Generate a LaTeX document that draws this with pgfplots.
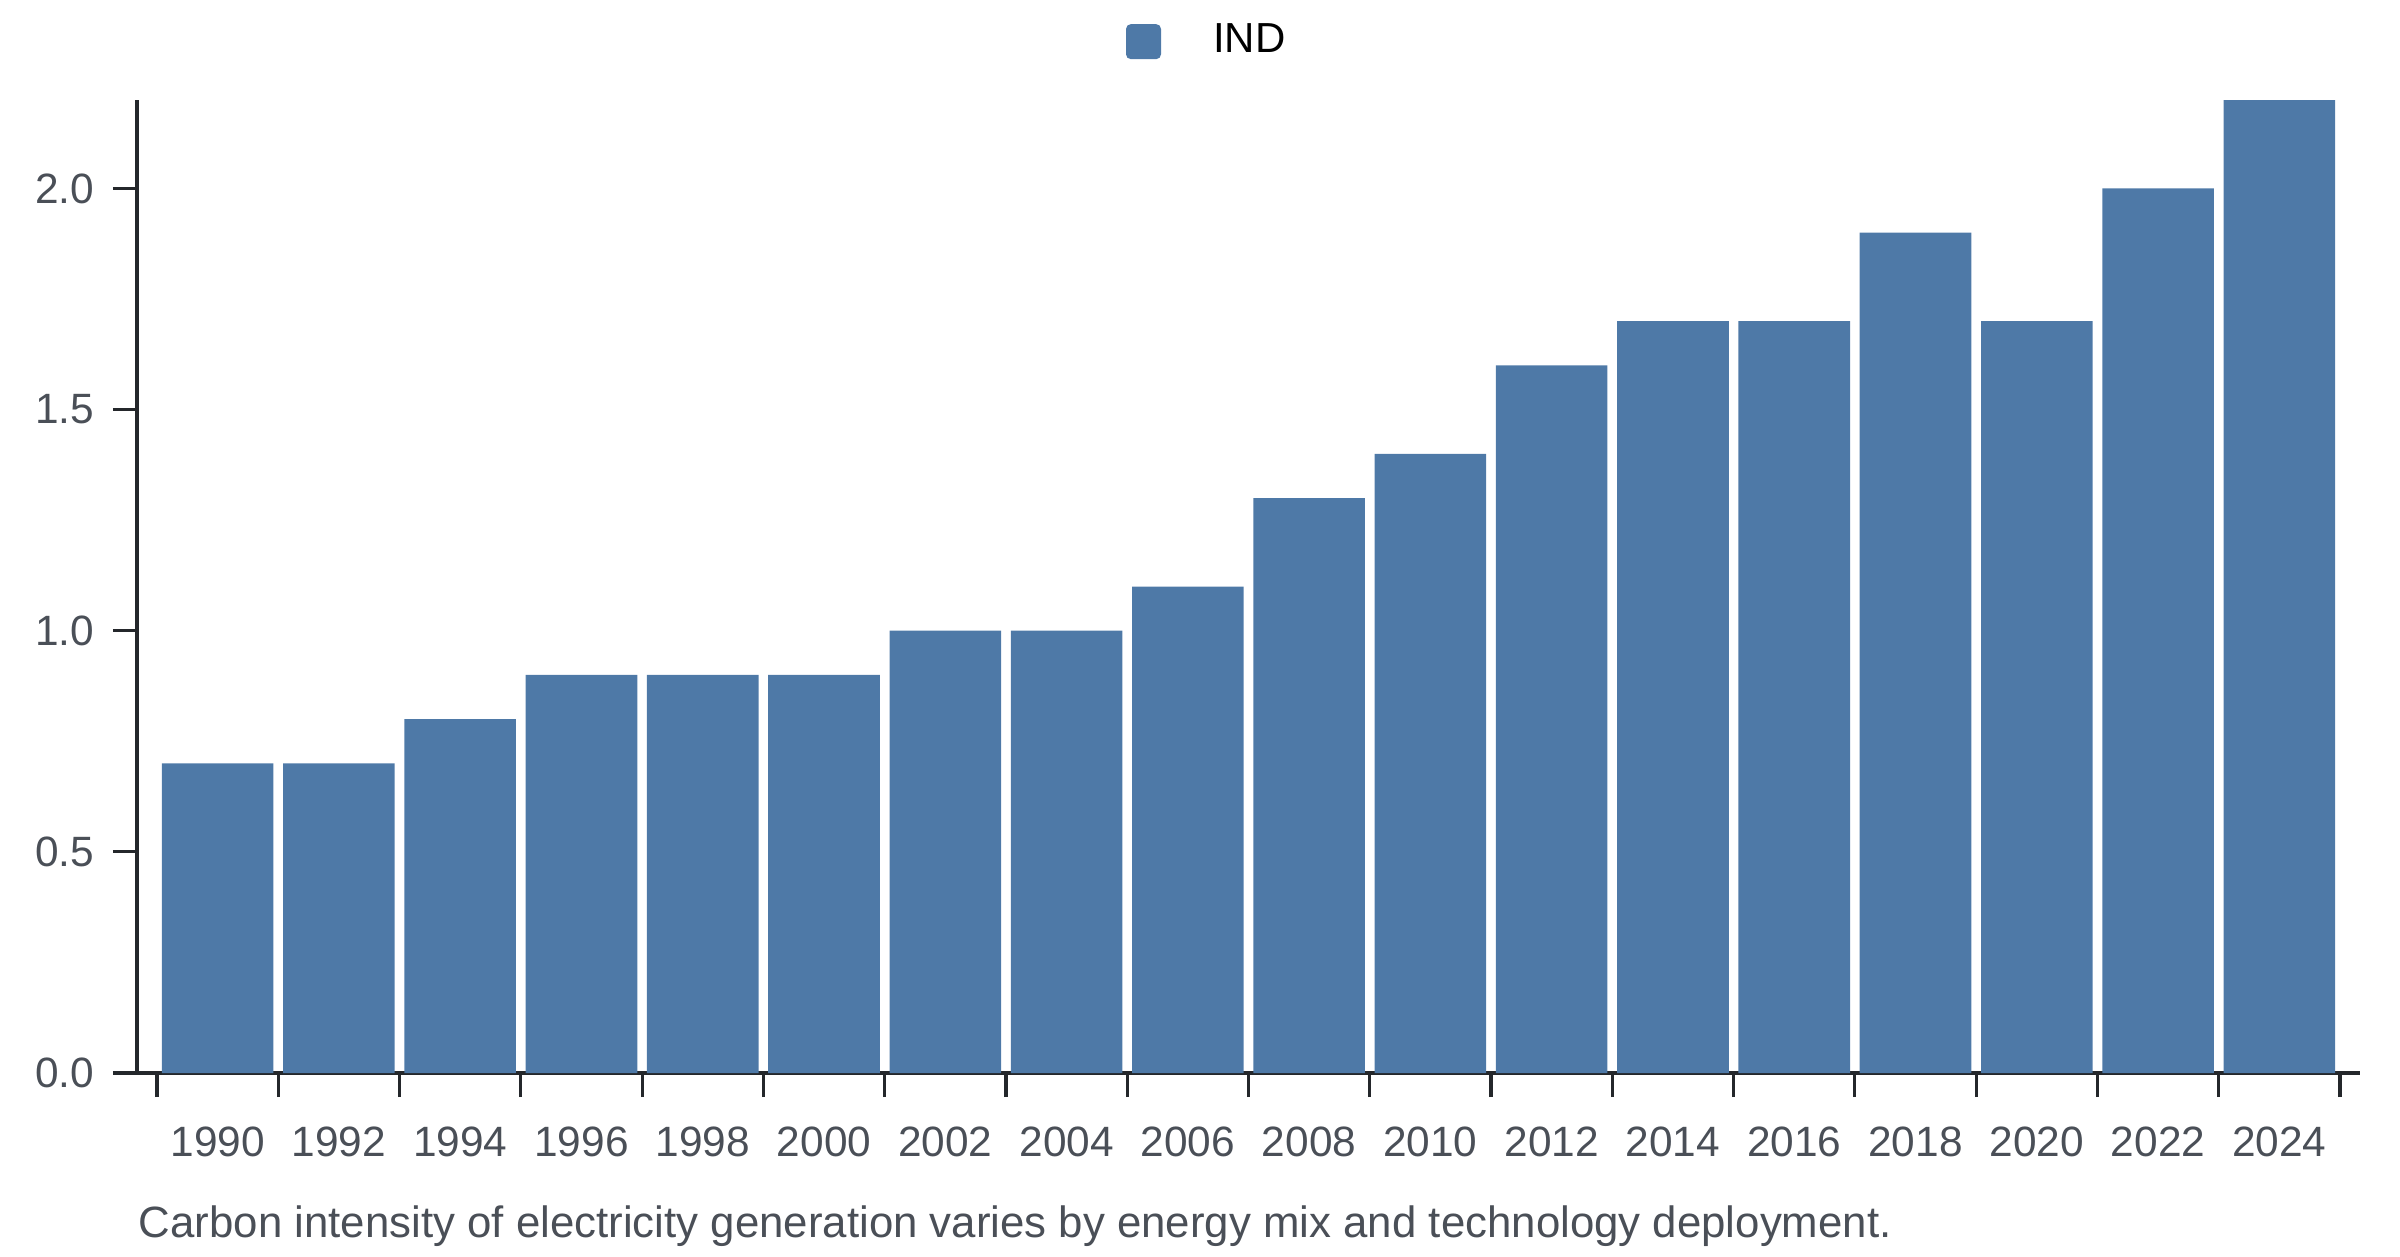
\documentclass[border=0pt]{standalone}
\usepackage{fontspec}
\setmainfont{Liberation Sans}
\usepackage{pgfplots}
\pgfplotsset{compat=1.18}
\definecolor{barblue}{HTML}{4E79A7}
\definecolor{axisc}{HTML}{24272B}
\definecolor{tickc}{HTML}{4A4F57}
\begin{document}
\fontsize{10.5pt}{12.6pt}\selectfont
\begin{tikzpicture}
\path[use as bounding box] (-34.25pt,-45.75pt) rectangle (565.75pt,268.25pt);
\begin{axis}[
  at={(0pt,0pt)}, anchor=south west,
  scale only axis, width=555.75pt, height=243.25pt,
  xmin=-0.665, xmax=17.665, ymin=0, ymax=2.2,
  axis x line*=bottom, axis y line*=left,
  axis line style={axisc, line width=0.85pt},
  tick style={axisc, line width=0.8pt},
  tick align=outside, major tick length=6pt,
  xtick={-0.5,0.5,...,17.5},
  x tick label as interval,
  xticklabels={1990,1992,1994,1996,1998,2000,2002,2004,2006,2008,2010,2012,2014,2016,2018,2020,2022,2024},
  ytick={0,0.5,1,1.5,2},
  /pgf/number format/fixed, /pgf/number format/fixed zerofill, /pgf/number format/precision=1, /pgf/number format/assume math mode=true,
  ticklabel style={tickc, font=\fontsize{10.6pt}{12.6pt}\selectfont},
  xticklabel style={anchor=base, inner sep=0pt, yshift=-14.75pt},
  yticklabel style={anchor=east, inner sep=0pt, xshift=-4.5pt},
  legend style={at={(0.4449,1.0600)}, anchor=west, draw=none, fill=none, inner sep=0pt, outer sep=0pt, nodes={inner sep=0pt, text=black, font=\fontsize{10.5pt}{12.6pt}\selectfont}},
  legend image code/.code={\fill[barblue, rounded corners=1.2pt] (0pt,-4.375pt) rectangle (8.75pt,4.375pt); \path (21.75pt,0pt);},
]
\addplot[ybar, bar width=0.92, fill=barblue, draw=none] coordinates {
(0,0.7) (1,0.7) (2,0.8) (3,0.9) (4,0.9) (5,0.9) (6,1.0) (7,1.0) (8,1.1)
(9,1.3) (10,1.4) (11,1.6) (12,1.7) (13,1.7) (14,1.9) (15,1.7) (16,2.0) (17,2.2)
};
\addlegendentry{IND}
\end{axis}
\node[anchor=base west, inner sep=0pt, text=tickc, font=\fontsize{10.95pt}{13pt}\selectfont] at (0.25pt,-41pt) {Carbon intensity of electricity generation varies by energy mix and technology deployment.};
\end{tikzpicture}
\end{document}
